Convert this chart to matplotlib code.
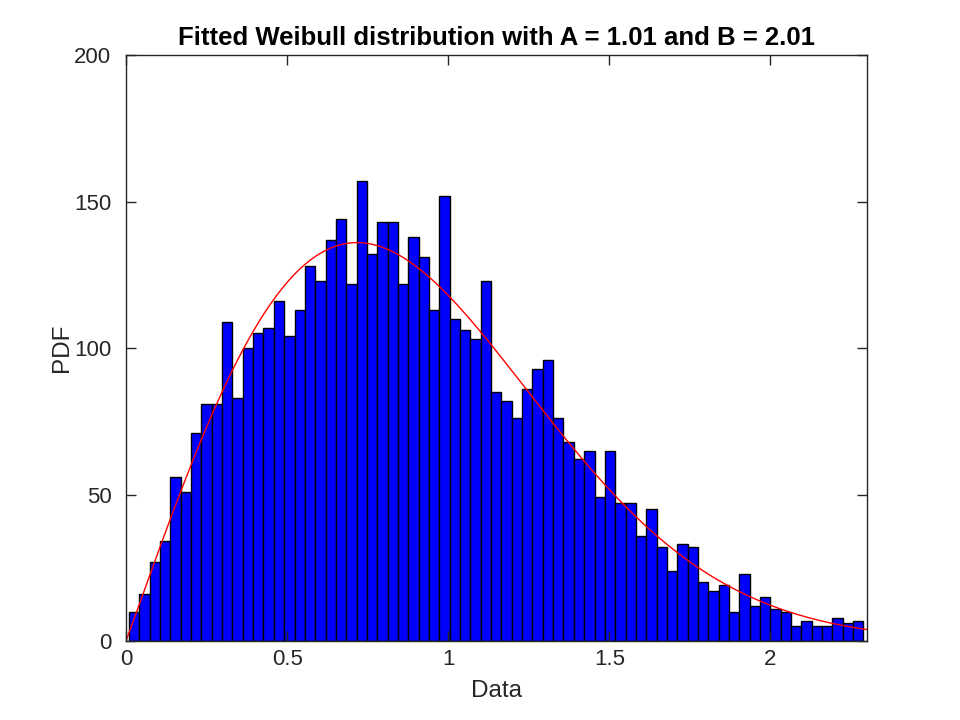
import numpy as np
import matplotlib
matplotlib.use("Agg")
import matplotlib.pyplot as plt

# Histogram counts (71 bins)
counts = [10, 16, 27, 34, 56, 51, 71, 81, 81, 109,
          83, 100, 105, 107, 116, 104, 113, 128, 123, 137,
          144, 122, 157, 132, 143, 143, 122, 138, 131, 113,
          152, 110, 106, 103, 123, 85, 82, 76, 86, 93,
          96, 76, 68, 62, 65, 49, 65, 47, 47, 36,
          45, 32, 24, 33, 32, 20, 17, 19, 10, 23,
          12, 15, 11, 10, 5, 7, 5, 5, 8, 6, 7]
data_min = 0.0093
data_max = 2.289
# Fitted Weibull parameters (scale A, shape B)
A = 1.01
B = 2.01

xticks = [0, 0.5, 1, 1.5, 2]
xticklabels = ["0", "0.5", "1", "1.5", "2"]
yticks = [0, 50, 100, 150, 200]

plt.rcParams['font.family'] = ['Liberation Sans', 'DejaVu Sans']

fig = plt.figure(figsize=(9.6, 7.2), dpi=100)
ax = fig.add_axes([0.13125, 0.1097, 0.7719, 0.8139])

edges = np.linspace(data_min, data_max, len(counts) + 1)
width = edges[1] - edges[0]
ax.bar(edges[:-1], counts, width=width, align='edge',
       color='#0000ff', edgecolor='black', linewidth=1.0)

n_samples = sum(counts)
xs = np.linspace(0, 2.3, 400)
pdf = (B / A) * (xs / A) ** (B - 1) * np.exp(-(xs / A) ** B)
ax.plot(xs, n_samples * width * pdf, color='#ff0000', linewidth=1.0)

ax.set_xlim(0, 2.3)
ax.set_ylim(0, 200)
ax.set_xticks(xticks)
ax.set_xticklabels(xticklabels)
ax.set_yticks(yticks)

spine_c = '#262626'
for s in ax.spines.values():
    s.set_color(spine_c)
    s.set_linewidth(1.0)
ax.tick_params(direction='in', length=7, width=1, colors=spine_c,
               labelsize=16, top=True, right=True)
ax.tick_params(axis='x', pad=6)
ax.tick_params(axis='y', pad=10.5)

ax.set_xlabel('Data', fontsize=17.5, color=spine_c, labelpad=7)
ax.set_ylabel('PDF', fontsize=17.5, color=spine_c, labelpad=1)
ax.set_title('Fitted Weibull distribution with A = 1.01 and B = 2.01',
             fontsize=18.5, fontweight='bold', color='black', pad=7)

fig.savefig('out.png', dpi=100)
